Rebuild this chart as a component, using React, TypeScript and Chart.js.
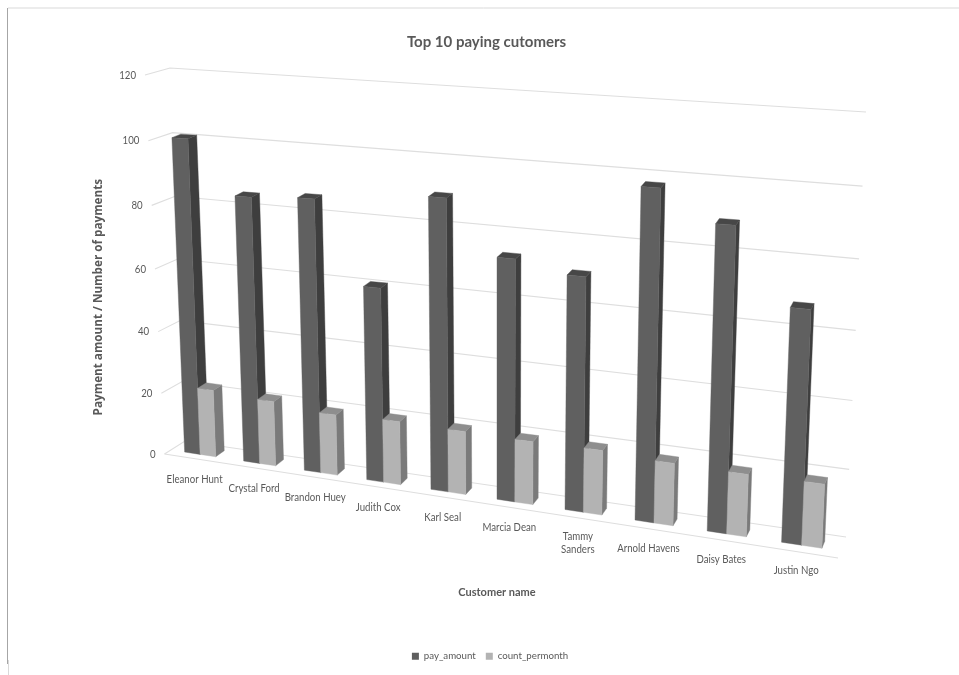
import React, { useEffect, useRef } from "react";
import { Chart, registerables } from "chart.js";

Chart.register(...registerables);

const categories = [
  "Eleanor Hunt", "Crystal Ford", "Brandon Huey", "Judith Cox", "Karl Seal",
  "Marcia Dean", "Tammy Sanders", "Arnold Havens", "Daisy Bates", "Justin Ngo",
];
const payAmount = [100, 83.6, 84.6, 59.7, 88, 72.1, 68.9, 95.3, 86.7, 65.8];
const countPerMonth = [21.6, 20.6, 19, 19.6, 19.3, 19, 19.2, 18.3, 18, 18.2];

type Pt = [number, number];
const TEXT = "#595959";
const GRID = "#dedede";

function homography(q: Pt[]) {
  const [[x0, y0], [x1, y1], [x2, y2], [x3, y3]] = q;
  const dx1 = x1 - x2, dx2 = x3 - x2, dx3 = x0 - x1 + x2 - x3;
  const dy1 = y1 - y2, dy2 = y3 - y2, dy3 = y0 - y1 + y2 - y3;
  const den = dx1 * dy2 - dx2 * dy1;
  const g = (dx3 * dy2 - dx2 * dy3) / den;
  const h = (dx1 * dy3 - dx3 * dy1) / den;
  const a = x1 - x0 + g * x1, b = x3 - x0 + h * x3;
  const d = y1 - y0 + g * y1, e = y3 - y0 + h * y3;
  return (u: number, v: number): Pt => {
    const w = g * u + h * v + 1;
    return [(a * u + b * v + x0) / w, (d * u + e * v + y0) / w];
  };
}

// Perspective of the back wall, and of the plane the bars stand in (TL, TR, BR, BL)
const wall = homography([[170, 68], [866, 112], [846, 537], [185, 441]]);
const barQuad = homography([[155, 71], [860, 106], [840, 551], [171, 450]]);
const barPlane = (u: number, v: number): Pt => barQuad(u + 0.02 * u * (1 - u), v);
const lerp = (a: number, b: number, t: number) => a + (b - a) * t;

const faces = [
  { front: "#606060", side: "#3e3e3e", top: "#474747" },
  { front: "#b3b3b3", side: "#7a7a7a", top: "#8e8e8e" },
];

function poly(ctx: CanvasRenderingContext2D, pts: Pt[], fill: string) {
  ctx.beginPath();
  pts.forEach((p, i) => (i ? ctx.lineTo(p[0], p[1]) : ctx.moveTo(p[0], p[1])));
  ctx.closePath();
  ctx.fillStyle = fill;
  ctx.fill();
  ctx.strokeStyle = fill;
  ctx.lineWidth = 0.4;
  ctx.stroke();
}

function line(ctx: CanvasRenderingContext2D, pts: Pt[]) {
  ctx.beginPath();
  pts.forEach((p, i) => (i ? ctx.lineTo(p[0], p[1]) : ctx.moveTo(p[0], p[1])));
  ctx.stroke();
}

// Calibri-like condensed text: Lato squeezed horizontally
function narrowText(ctx: CanvasRenderingContext2D, text: string, x: number, y: number) {
  ctx.save();
  ctx.translate(x, y);
  ctx.scale(0.84, 1);
  ctx.fillText(text, 0, 0);
  ctx.restore();
}

const perspective3D = {
  id: "perspective3D",
  afterLayout(chart: any) {
    const t = chart.titleBlock;
    if (t) { t.left -= 3.5; t.right -= 3.5; t.top += 1; t.bottom += 1; }
  },
  beforeDraw(chart: any) {
    const { ctx } = chart;
    ctx.save();
    ctx.lineWidth = 1;
    ctx.strokeStyle = "#d9d9d9";
    line(ctx, [[8, 8], [959, 8]]);
    line(ctx, [[8.5, 660], [8.5, 675]]);
    ctx.strokeStyle = "#a6a6a6";
    line(ctx, [[7.5, 8], [7.5, 664]]);
    ctx.restore();
  },
  beforeDatasetsDraw(chart: any) {
    const { ctx, chartArea: ca, scales } = chart;
    const yScale = scales.y, xScale = scales.x;
    const U = (px: number) => (px - ca.left) / (ca.right - ca.left);
    const V = (py: number) => (py - ca.top) / (ca.bottom - ca.top);

    ctx.save();
    // gridlines and y tick labels
    ctx.lineWidth = 1.1;
    ctx.font = "11.5px Lato";
    ctx.textAlign = "right";
    ctx.textBaseline = "middle";
    yScale.ticks.forEach((t: any) => {
      const v = V(yScale.getPixelForValue(t.value));
      const back = wall(0, v);
      const sy = back[1] * 1.016 + 5.9;
      const side: Pt = [lerp(145, 164.5, (sy - 75) / 379), sy];
      ctx.strokeStyle = GRID;
      line(ctx, [side, back, wall(1, v)]);
      ctx.fillStyle = TEXT;
      narrowText(ctx, String(t.value), side[0] - 9, side[1]);
    });
    // floor edge
    ctx.strokeStyle = GRID;
    line(ctx, [[164.5, 454], [838, 558]]);

    // bars, left to right, each series through the library's own bar elements
    const metas = [chart.getDatasetMeta(0), chart.getDatasetMeta(1)];
    categories.forEach((_, i) => {
      metas.forEach((meta: any, s: number) => {
        const el = meta.data[i];
        const { x, y, base, width } = el.getProps(["x", "y", "base", "width"], true);
        const depth = (p: Pt, u: number, v: number): Pt => [
          p[0] + lerp(9, 2.7, u),
          p[1] + lerp(lerp(-3, -5, u), lerp(-6, -7, u), v),
        ];
        const uL = U(x - width / 2), uR = U(x + width / 2);
        const vT = V(y), vB = V(base);
        const fTL = barPlane(uL, vT), fTR = barPlane(uR, vT);
        const fBL = barPlane(uL, vB), fBR = barPlane(uR, vB);
        const bTL = depth(fTL, uL, vT), bTR = depth(fTR, uR, vT), bBR = depth(fBR, uR, vB);
        poly(ctx, [fTR, fBR, bBR, bTR], faces[s].side);
        poly(ctx, [fTL, fTR, bTR, bTL], faces[s].top);
        poly(ctx, [fTL, fTR, fBR, fBL], faces[s].front);
      });
    });

    // category labels along the floor
    ctx.font = "11.5px Lato";
    ctx.textAlign = "center";
    ctx.fillStyle = TEXT;
    categories.forEach((_, i) => {
      const px = xScale.getPixelForValue(i);
      const p = barPlane(U(px), 1);
      const text = xScale.getLabelForValue(i);
      const lines = text === "Tammy Sanders" ? text.split(" ") : [text];
      lines.forEach((ln: string, k: number) => {
        const off = (k - (lines.length - 1) / 2) * 13;
        narrowText(ctx, ln, p[0] - 5.5, p[1] + 25 + off + (lines.length > 1 ? 6 : 0));
      });
    });
    ctx.restore();
    return false;
  },
};

export default function App() {
  const ref = useRef<HTMLCanvasElement | null>(null);
  useEffect(() => {
    const chart = new Chart(ref.current as HTMLCanvasElement, {
      type: "bar",
      data: {
        labels: categories,
        datasets: [
          { label: "pay_amount", data: payAmount, backgroundColor: "#5f5f5f", categoryPercentage: 0.53, barPercentage: 1 },
          { label: "count_permonth", data: countPerMonth, backgroundColor: "#b3b3b3", categoryPercentage: 0.53, barPercentage: 1 },
        ],
      },
      options: {
        responsive: false,
        animation: false,
        layout: { padding: { left: 90, right: 69, top: 0, bottom: 4 } },
        plugins: {
          title: {
            display: true,
            text: "Top 10 paying cutomers",
            color: TEXT,
            font: { family: "Lato", size: 15, weight: "bold" },
            padding: { top: 32, bottom: 40 },
          },
          legend: {
            position: "bottom",
            labels: {
              color: TEXT,
              font: { family: "Lato", size: 9.7 },
              boxWidth: 7,
              boxHeight: 7,
              padding: 10,
            },
          },
          tooltip: { enabled: false },
        },
        scales: {
          x: {
            grid: { display: false },
            border: { display: false },
            ticks: { display: false },
            title: {
              display: true,
              text: "Customer name",
              color: TEXT,
              font: { family: "Lato", size: 11, weight: "bold" },
              padding: { top: 4, bottom: 42 },
            },
            afterFit(scale: any) { scale.height = 137; },
          },
          y: {
            min: 0,
            max: 120,
            grid: { display: false },
            border: { display: false },
            ticks: { display: false, stepSize: 20 },
            title: {
              display: true,
              text: "Payment amount / Number of payments",
              color: TEXT,
              font: { family: "Open Sans", size: 11.7, weight: "bold" },
              padding: { top: 2, bottom: 0 },
            },
            afterFit(scale: any) { scale.width = 14; },
          },
        },
      },
      plugins: [perspective3D],
    } as any);
    return () => chart.destroy();
  }, []);
  return (
    <div style={{ position: "absolute", left: 0, top: 0, width: 959, height: 675, background: "#fff" }}>
      <canvas ref={ref} width={959} height={675} style={{ display: "block", filter: "blur(0.4px)" }} />
    </div>
  );
}
